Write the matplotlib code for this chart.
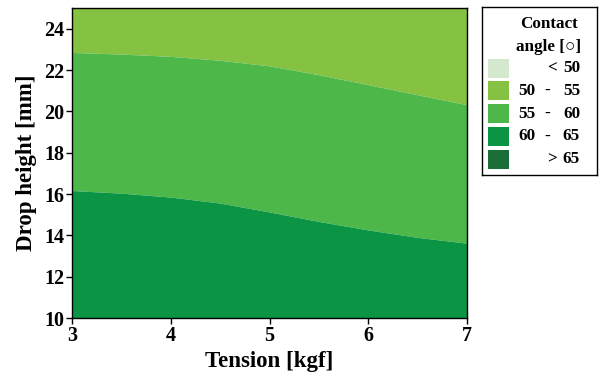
import matplotlib
matplotlib.use('Agg')
import matplotlib.pyplot as plt
from matplotlib.patches import Rectangle

plt.rcParams['font.family'] = ['Liberation Serif', 'DejaVu Serif']
plt.rcParams['font.weight'] = 'bold'

# boundaries between contact angle bands
tension = [3, 3.5, 4, 4.5, 5, 5.5, 6, 6.5, 7]
height_55_60 = [22.85, 22.77, 22.66, 22.47, 22.20, 21.77, 21.29, 20.80, 20.32]
height_60_65 = [16.17, 16.04, 15.85, 15.56, 15.13, 14.67, 14.26, 13.90, 13.62]

band_low = ['', '50', '55', '60', '']
band_sign = ['<', '-', '-', '-', '>']
band_high = ['50', '55', '60', '65', '65']
band_colors = ['#d3e8cd', '#86c241', '#4db749', '#0a9444', '#1b6e37']

y_min, y_max = 10, 25

fig = plt.figure(figsize=(6.04, 3.82), dpi=100)
ax = fig.add_axes([72 / 604, 1 - 318 / 382, 395 / 604, 310 / 382])

ax.fill_between(tension, height_55_60, y_max, color=band_colors[1], lw=0)
ax.fill_between(tension, height_60_65, height_55_60, color=band_colors[2], lw=0)
ax.fill_between(tension, y_min, height_60_65, color=band_colors[3], lw=0)

ax.set_xlim(3, 7)
ax.set_ylim(y_min, y_max)
ax.set_xticks([3, 4, 5, 6, 7])
ax.set_yticks([10, 12, 14, 16, 18, 20, 22, 24])
ax.tick_params(direction='out', length=4, width=1, labelsize=14.5, pad=1.5)
for sp in ax.spines.values():
    sp.set_linewidth(1)
ax.set_xlabel('Tension [kgf]', fontsize=16.5, fontweight='bold', labelpad=4)
ax.set_ylabel('Drop height [mm]', fontsize=16.5, fontweight='bold', labelpad=5)

# legend drawn by hand so the labels line up like the original
lg = fig.add_axes([482 / 604, 1 - 175 / 382, 115 / 604, 168 / 382])
lg.set_xlim(0, 115)
lg.set_ylim(168, 0)
lg.set_xticks([])
lg.set_yticks([])
for sp in lg.spines.values():
    sp.set_linewidth(1)
lg.text(67, 17, 'Contact', ha='center', va='center', fontsize=12.3)
lg.text(67, 40, 'angle [○]', ha='center', va='center', fontsize=12.3)

for i in range(len(band_colors)):
    yc = 61 + i * 22.8
    lg.add_patch(Rectangle((6, yc - 9.5), 21, 19, color=band_colors[i], lw=0))
    lg.text(36, yc, band_low[i], ha='left', va='center', fontsize=12.3)
    sx = 65 if band_low[i] else 70
    lg.text(sx, yc, band_sign[i], ha='center', va='center', fontsize=12.3)
    lg.text(98, yc, band_high[i], ha='right', va='center', fontsize=12.3)

fig.savefig('out.png', dpi=100)
